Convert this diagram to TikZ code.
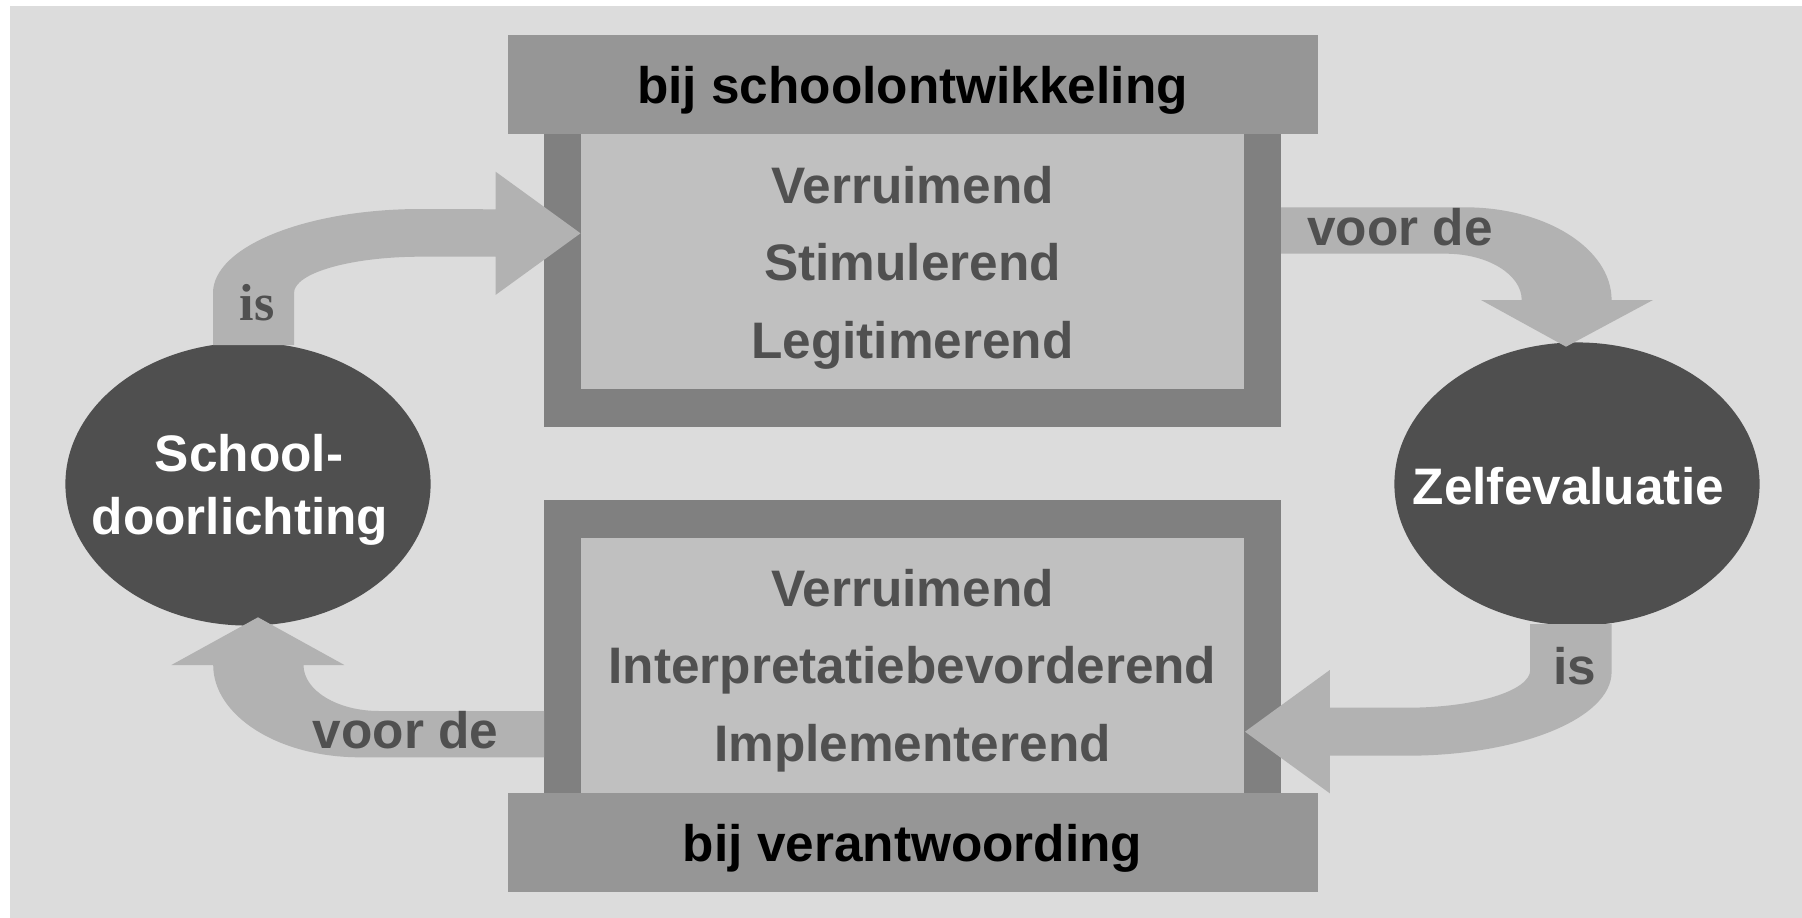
\documentclass[tikz,border=0pt]{standalone}
\usepackage{fontspec}
\setmainfont{Liberation Sans}
\newfontfamily\isserif{Liberation Serif}
\usepackage{tikz}
\usetikzlibrary{shapes,positioning}

\definecolor{bgGray}{HTML}{DCDCDC}
\definecolor{headGray}{HTML}{969696}
\definecolor{frameGray}{HTML}{808080}
\definecolor{innerGray}{HTML}{C0C0C0}
\definecolor{arrowGray}{HTML}{B2B2B2}
\definecolor{ovalGray}{HTML}{4F4F4F}
\definecolor{txtGray}{HTML}{505050}

\tikzset{
  lbl/.style={anchor=base, text=txtGray, font=\fontsize{14.6}{17}\selectfont\bfseries},
  headlbl/.style={lbl, text=black},
  ovallbl/.style={lbl, text=white},
  seriflbl/.style={anchor=base, text=txtGray, font=\isserif\fontsize{14.8}{17}\selectfont\bfseries},
  oval/.style={ellipse, fill=ovalGray, minimum width=3.65cm, minimum height=2.83cm, outer sep=0pt}
}

\begin{document}
\begin{tikzpicture}[x=0.01cm,y=-0.01cm]
                    \tikzstyle{every node}+=[inner sep=0pt]
                    \useasboundingbox (0,0) rectangle (1802,918);
                    \fill [bgGray] (10,6) rectangle (1802,918);
                    % top box
                    \fill [frameGray] (544,134) rectangle (1281,427);
                    \fill [innerGray] (581,134) rectangle (1244,389);
                    \fill [headGray] (508,35) rectangle (1318,134);
                    % bottom box
                    \fill [frameGray] (544,500) rectangle (1281,793);
                    \fill [innerGray] (581,538) rectangle (1244,793);
                    \fill [headGray] (508,793) rectangle (1318,892);
                    \node [oval] (schoolEll) at (248,484) {};
                    \node [oval] (zelfEll) at (1577,484) {};
                    % curved arrows
                    \fill [arrowGray] (213,345) -- (213,293) arc[start angle=180, end angle=270, x radius=208, y radius=84] -- (495.6,209.3) -- (495.6,171.7) -- (580.5,233.3) -- (495.6,294.9) -- (495.6,256.7) -- (421,256.7) arc[start angle=270, end angle=180, x radius=127, y radius=36.3] -- (294,345) -- cycle;
                    \fill [arrowGray] (1281,207.3) -- (1465,207.3) arc[start angle=270, end angle=360, x radius=146.6, y radius=92.7] -- (1653,300) -- (1566,346.7) -- (1481,300) -- (1521.7,300) arc[start angle=0, end angle=-90, x radius=76, y radius=46.3] -- (1281,253.7) -- cycle;
                    \fill [arrowGray] (1611.6,624) -- (1611.6,672) arc[start angle=0, end angle=90, x radius=204.6, y radius=83.7] -- (1329.8,755.7) -- (1329.8,793.3) -- (1245,731.7) -- (1329.8,670) -- (1329.8,707.7) -- (1407,707.7) arc[start angle=90, end angle=0, x radius=123.2, y radius=37.7] -- (1530.2,624) -- cycle;
                    \fill [arrowGray] (544.2,757.3) -- (359.7,757.3) arc[start angle=90, end angle=180, x radius=146.5, y radius=92.3] -- (171.4,665) -- (258,617.3) -- (344.4,665) -- (303.5,665) arc[start angle=180, end angle=90, x radius=75.5, y radius=46] -- (544.2,711) -- cycle;
                    % texts
                    \node [headlbl] (topHead) at (912.5,103.3) {bij schoolontwikkeling};
                    \node [lbl] (topA) at (912.5,203.3) {Verruimend};
                    \node [lbl] (topB) at (912.5,280) {Stimulerend};
                    \node [lbl] (topC) at (912.5,358.3) {Legitimerend};
                    \node [lbl] (botA) at (912.5,606.7) {Verruimend};
                    \node [lbl] (botB) at (912.5,683.3) {Interpretatiebevorderend};
                    \node [lbl] (botC) at (912.5,761.7) {Implementerend};
                    \node [headlbl] (botHead) at (912.5,861.7) {bij verantwoording};
                    \node [ovallbl] (schoolA) at (249,471.7) {School-};
                    \node [ovallbl] (schoolB) at (240,534) {doorlichting};
                    \node [ovallbl] (zelfText) at (1568.3,504) {Zelfevaluatie};
                    \node [seriflbl] (isLeft) at (257,320) {is};
                    \node [lbl] (voorRight) at (1400,245.7) {voor de};
                    \node [lbl] (isRight) at (1575,684) {is};
                    \node [lbl] (voorLeft) at (405.7,748.3) {voor de};
                \end{tikzpicture}
\end{document}
